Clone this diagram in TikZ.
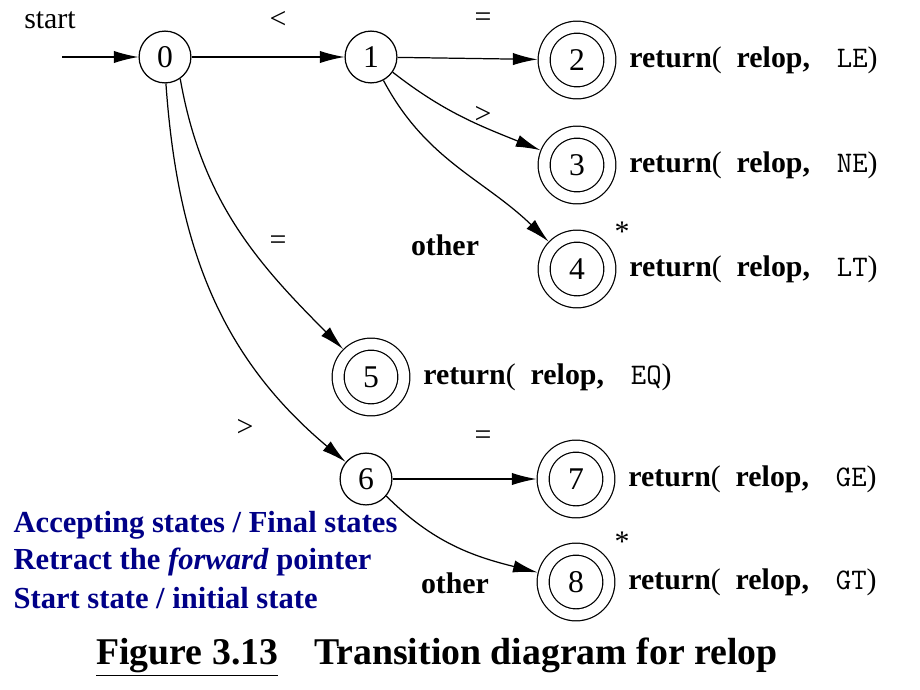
\documentclass[tikz,border=0pt]{standalone}
\usepackage{fontspec}
\setmainfont{Liberation Serif}
\usepackage{xcolor}
\usetikzlibrary{arrows.meta,positioning}
\definecolor{notecol}{RGB}{0,0,135}
\newcommand{\retval}[1]{\textbf{return}(\ \ \textbf{relop,}\hspace{0.9em}\texttt{#1})}

\begin{document}
\begin{tikzpicture}[x=0.02cm, y=0.02cm, line width=0.7pt,
    state/.style={circle, draw, minimum size=29.5pt, inner sep=0pt, font=\fontsize{18}{20}\selectfont},
    final/.style={state, double, double distance=6.1pt, minimum size=37.4pt, outer sep=3.8pt},
    edge/.style={-{Latex[length=14pt,width=7pt]}},
    lbl/.style={font=\fontsize{17}{19}\selectfont, inner sep=1pt},
    ret/.style={font=\fontsize{17}{19}\selectfont, anchor=west, inner sep=0pt},
    note/.style={font=\fontsize{17.4}{19}\selectfont\bfseries, text=notecol, anchor=west, inner sep=0pt}]
    \useasboundingbox (0,0) rectangle (920,-690);

    % States
    \node[state] (s0) at (165,-57) {0};
    \node[state] (s1) at (371,-57) {1};
    \node[final] (s2) at (577,-60) {2};
    \node[final] (s3) at (577,-165) {3};
    \node[final] (s4) at (577,-269) {4};
    \node[final] (s5) at (371,-377) {5};
    \node[state] (s6) at (366,-479) {6};
    \node[final] (s7) at (576,-479) {7};
    \node[final] (s8) at (576,-582) {8};

    % Actions
    \node[ret, right=7pt of s2] (r2) {\retval{LE}};
    \node[ret, right=7pt of s3] (r3) {\retval{NE}};
    \node[ret, right=7pt of s4] (r4) {\retval{LT}};
    \node[ret, right=7pt of s5] (r5) {\retval{EQ}};
    \node[ret, right=7pt of s7] (r7) {\retval{GE}};
    \node[ret, right=7pt of s8] (r8) {\retval{GT}};
    \node[lbl] (a4) at (622,-232) {*};
    \node[lbl] (a8) at (622,-542) {*};

    % Transitions
    \coordinate (in) at (62,-57);
    \node[lbl] (st) at (50,-20) {start};
    \draw[edge] (in) -- (s0);
    \draw[edge] (s0) -- (s1);
    \draw[edge] (s1) -- (s2);
    \draw[edge] (s1.-35) to[out=-38, in=158] (s3);
    \draw[edge] (s1.-62) to[out=-62, in=136] (s4);
    \draw[edge] (s0.-55) to[out=-80, in=135] (s5);
    \draw[edge] (s0.-88) to[out=-86, in=140] (s6);
    \draw[edge] (s6) -- (s7);
    \draw[edge] (s6.-40) to[out=-45, in=166] (s8);

    % Labels
    \node[lbl] (l01) at (278,-20) {<};
    \node[lbl] (l12) at (483,-20) {=};
    \node[lbl] (l13) at (483,-115) {>};
    \node[lbl, font=\fontsize{17}{19}\selectfont\bfseries] (l14) at (445,-245) {other};
    \node[lbl] (l05) at (278,-243) {=};
    \node[lbl] (l06) at (245,-428) {>};
    \node[lbl] (l67) at (483,-438) {=};
    \node[lbl, font=\fontsize{17}{19}\selectfont\bfseries] (l68) at (455,-583) {other};

    % Notes
    \node[note] (n1) at (13,-525) {Accepting states / Final states};
    \node[note] (n2) at (13,-562) {Retract the \textit{forward} pointer};
    \node[note] (n3) at (13,-598) {Start state / initial state};
    \node[font=\fontsize{21.5}{24}\selectfont\bfseries] (cap) at (437,-657)
        {\underline{Figure 3.13}\hspace{0.7em} Transition diagram for relop};
\end{tikzpicture}
\end{document}
